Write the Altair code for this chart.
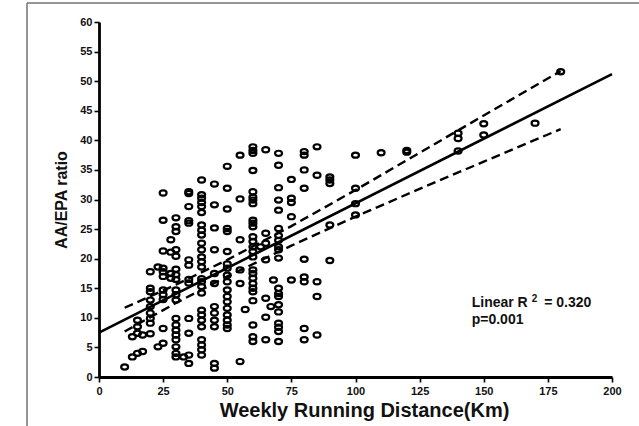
import altair as alt
import pandas as pd

# Weekly running distance (km) and the AA/EPA ratios measured at each distance
km_groups = [10, 13, 15, 17, 20, 23, 25, 28, 30, 33, 35, 40, 45, 50, 55, 57,
             60, 63, 65, 67, 68, 70, 75, 80, 85, 90, 100, 110, 120, 140, 150,
             170, 180]
ratio_groups = [
    [1.7],
    [3.4, 6.8],
    [4.0, 7.4, 8.5, 9.6],
    [4.3, 7.1],
    [7.3, 9.1, 9.9, 10.8, 11.9, 13.0, 14.4, 15.0, 17.8],
    [5.1, 18.6],
    [5.7, 8.2, 13.1, 13.9, 14.7, 17.0, 17.8, 18.4, 21.3, 26.5, 31.1],
    [16.7, 17.5, 21.1, 23.2],
    [3.4, 4.0, 5.1, 6.3, 7.1, 7.9, 8.8, 9.9, 13.0, 13.9, 14.7, 16.5, 17.3,
     18.2, 20.4, 21.5, 24.6, 25.4, 26.9],
    [3.4],
    [2.3, 3.7, 7.4, 9.9, 15.9, 16.5, 18.9, 19.8, 26.0, 26.4, 28.8, 31.0, 31.3],
    [3.7, 4.6, 5.4, 6.3, 8.5, 9.6, 10.5, 11.3, 14.2, 15.3, 16.1, 16.6, 18.6,
     19.5, 20.3, 21.5, 22.6, 24.0, 24.8, 25.7, 27.8, 28.8, 29.5, 30.2, 30.8,
     33.3],
    [1.5, 2.3, 8.5, 9.6, 10.8, 11.9, 15.8, 17.5, 21.5, 25.2, 29.1, 32.6],
    [8.2, 8.8, 9.6, 10.5, 11.6, 12.7, 13.6, 14.7, 16.1, 17.2, 18.4, 19.1, 21.2,
     24.6, 25.1, 28.4, 31.9, 35.6],
    [2.6, 15.8, 18.1, 23.2, 30.1, 37.5],
    [11.4],
    [6.0, 6.8, 8.8, 12.9, 14.4, 15.0, 15.8, 16.7, 17.5, 18.1, 20.3, 21.2, 22.0,
     22.9, 23.7, 25.4, 26.0, 26.5, 29.3, 29.9, 30.4, 31.3, 34.9, 37.8, 38.3,
     38.9],
    [22.0],
    [6.3, 10.1, 13.3, 19.8, 22.6, 24.3, 38.4],
    [11.9],
    [16.4],
    [6.0, 7.7, 8.4, 9.1, 11.0, 12.2, 13.6, 14.1, 15.0, 20.1, 21.5, 22.0, 23.1,
     23.9, 25.1, 28.2, 29.9, 32.0, 35.8, 37.8],
    [16.4, 27.1, 29.5, 30.2, 33.4],
    [6.3, 8.2, 16.1, 16.9, 19.9, 31.9, 35.0, 37.5, 38.1],
    [7.1, 13.6, 16.1, 34.1, 38.9],
    [19.7, 25.7, 32.7, 33.3, 33.8],
    [27.4, 29.3, 31.9, 37.5],
    [37.9],
    [38.0, 38.3],
    [38.2, 40.3, 41.2],
    [40.9, 42.8],
    [42.9],
    [51.6],
]

# Linear fit and its 95% confidence band
fit_km = [0, 200]
fit_ratio = [7.5, 51.2]
band_km = [10, 30, 50, 75, 100, 125, 150, 180]
band_upper = [11.7, 15.6, 19.8, 25.5, 31.6, 37.9, 44.2, 51.7]
band_lower = [7.7, 12.5, 17.0, 22.2, 27.1, 31.8, 36.4, 41.9]

# axis tick values
x_ticks = [0, 25, 50, 75, 100, 125, 150, 175, 200]
y_ticks = [0, 5, 10, 15, 20, 25, 30, 35, 40, 45, 50, 55, 60]

FONT = "Liberation Sans"

points = pd.DataFrame(
    [(k, r) for k, rs in zip(km_groups, ratio_groups) for r in rs],
    columns=["km", "ratio"],
)
fit = pd.DataFrame({"km": fit_km, "ratio": fit_ratio})
band = pd.concat([
    pd.DataFrame({"km": band_km, "ratio": band_upper, "side": "upper"}),
    pd.DataFrame({"km": band_km, "ratio": band_lower, "side": "lower"}),
])

x_scale = alt.Scale(domain=[0, 200], nice=False, zero=True)
y_scale = alt.Scale(domain=[0, 60], nice=False, zero=True)

x_axis = alt.Axis(
    values=x_ticks,
    title="Weekly Running Distance(Km)",
    grid=False, labelOverlap=False, labelFlush=False,
    domainColor="black", domainWidth=2.8,
    tickColor="black", tickWidth=1.6, tickSize=5,
    labelFont=FONT, labelFontSize=11, labelFontWeight="bold",
    labelColor="#111111", labelPadding=3,
    titleFont=FONT, titleFontSize=20, titleFontWeight="bold",
    titleColor="#111111", titleX=265, titleY=39, titleAlign="center",
    titleBaseline="alphabetic",
)
y_axis = alt.Axis(
    values=y_ticks,
    title="AA/EPA ratio",
    grid=False, labelOverlap=False, labelFlush=False,
    domainColor="black", domainWidth=2.8,
    tickColor="black", tickWidth=1.6, tickSize=5,
    labelFont=FONT, labelFontSize=11, labelFontWeight="bold",
    labelColor="#111111", labelPadding=2,
    titleFont=FONT, titleFontSize=16, titleFontWeight="bold",
    titleColor="#111111", titleAngle=270, titleX=-38, titleY=177.5,
    titleAlign="center", titleBaseline="middle",
)

X = alt.X("km:Q", scale=x_scale, axis=x_axis, title="Weekly Running Distance(Km)")
Y = alt.Y("ratio:Q", scale=y_scale, axis=y_axis, title="AA/EPA ratio")

# open rings, a little wider than tall (ellipse drawn with cubic curves)
ring = ("M1,0 C1,0.42 0.55,0.75 0,0.75 C-0.55,0.75 -1,0.42 -1,0 "
        "C-1,-0.42 -0.55,-0.75 0,-0.75 C0.55,-0.75 1,-0.42 1,0 Z")

scatter = alt.Chart(points).mark_point(
    shape=ring, filled=False, stroke="black", strokeWidth=2.2,
    size=48, opacity=1,
).encode(x=X, y=Y)

fit_line = alt.Chart(fit).mark_line(color="black", strokeWidth=2.6).encode(
    x=X, y=Y)

band_lines = alt.Chart(band).mark_line(
    color="black", strokeWidth=2.4, strokeDash=[9, 5]
).encode(x=X, y=Y, detail="side:N")

# fit statistics
stat_row = pd.DataFrame({"km": [145.3], "ratio": [11.78]})
p_row = pd.DataFrame({"km": [145.3], "ratio": [8.9]})
stat_style = dict(font=FONT, fontSize=14, fontWeight="bold", color="#111111",
                  align="left", baseline="alphabetic")
r_label = alt.Chart(stat_row).mark_text(text="Linear R", **stat_style).encode(
    x=X, y=Y)
r_sup = alt.Chart(stat_row).mark_text(
    text="2", dx=60, dy=-5.5, font=FONT, fontSize=10, fontWeight="bold",
    color="#111111", align="left", baseline="alphabetic",
).encode(x=X, y=Y)
r_value = alt.Chart(stat_row).mark_text(text="= 0.320", dx=72.5, **stat_style).encode(
    x=X, y=Y)
p_label = alt.Chart(p_row).mark_text(text="p=0.001", **stat_style).encode(
    x=X, y=Y)

# thin grey frame around the figure
frame_left = alt.Chart(stat_row).mark_rule(color="#707070", strokeWidth=1.5).encode(
    x=alt.value(-72), y=alt.value(-19), y2=alt.value(420))
frame_top = alt.Chart(stat_row).mark_rule(color="#707070", strokeWidth=1.5).encode(
    x=alt.value(-72), x2=alt.value(560), y=alt.value(-19))

chart = alt.layer(
    scatter, band_lines, fit_line,
    r_label, r_sup, r_value, p_label, frame_left, frame_top,
).properties(
    width=513, height=355,
    autosize=alt.AutoSizeParams(type="none"),
    padding={"left": 99, "top": 22, "right": 27, "bottom": 49},
    background="white",
).configure_view(stroke=None)

chart.save("out.html", embed_options={"renderer": "svg", "actions": False})
